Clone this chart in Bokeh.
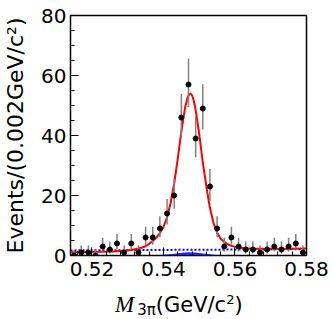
import math
from bokeh.plotting import figure
from bokeh.models import Range1d, FixedTicker, ColumnDataSource, Div
from bokeh.layouts import column
from bokeh.embed import file_html
from bokeh.resources import INLINE

# ---- data ----
bin_centers = [0.515, 0.517, 0.519, 0.521, 0.523, 0.525, 0.527, 0.529, 0.531, 0.533,
               0.535, 0.537, 0.539, 0.541, 0.543, 0.545, 0.547, 0.549, 0.551, 0.553,
               0.555, 0.557, 0.559, 0.561, 0.563, 0.565, 0.567, 0.569, 0.571, 0.573,
               0.575, 0.577, 0.579]
counts = [0, 1, 1, 0, 3, 2, 4, 1, 4, 1,
          6, 6, 9, 14, 20, 46, 57, 39, 49, 23,
          9, 3, 6, 3, 2, 2, 1, 2, 3, 2,
          3, 4, 1]

# total fit (red)
fit_x = [0.514, 0.518, 0.522, 0.526, 0.529, 0.531, 0.533, 0.534, 0.535, 0.536,
         0.537, 0.538, 0.539, 0.540, 0.541, 0.542, 0.543, 0.544, 0.545, 0.546,
         0.5465, 0.547, 0.5475, 0.548, 0.5485, 0.549, 0.550, 0.551, 0.552, 0.553,
         0.554, 0.555, 0.556, 0.557, 0.558, 0.559, 0.561, 0.563, 0.566, 0.570,
         0.575, 0.580]
fit_y = [1.1, 1.17, 1.25, 1.36, 1.55, 1.85, 2.35, 2.65, 3.1, 3.9,
         4.8, 5.9, 7.5, 9.5, 12.7, 17.5, 24.0, 32.3, 41.2, 49.0,
         51.6, 53.4, 54.0, 53.4, 51.5, 48.5, 40.5, 31.0, 23.0, 15.8,
         10.8, 7.6, 5.6, 4.5, 3.7, 3.2, 2.65, 2.4, 2.25, 2.22,
         2.26, 2.3]

# background (blue dotted)
bkg_x = [0.514, 0.580]
bkg_y = [1.7, 2.1]

# peaking background (blue fill)
pk_x = [0.537, 0.539, 0.541, 0.543, 0.545, 0.547, 0.549, 0.551, 0.553, 0.555, 0.557]
pk_y = [0.0, 0.15, 0.35, 0.6, 0.9, 1.1, 1.0, 0.7, 0.4, 0.2, 0.0]

x_ticks = [0.52, 0.54, 0.56, 0.58]
y_ticks = [0, 20, 40, 60, 80]

# Poisson-style asymmetric error bars
err_lo = [max(n - math.sqrt(n - 0.25), 0.0) if n > 0 else 0.0 for n in counts]
err_hi = [n + math.sqrt(n + 0.75) + 1.0 for n in counts]

p = figure(width=332, height=288, x_range=Range1d(0.514, 0.580), y_range=Range1d(0, 80),
           output_backend="svg", toolbar_location=None,
           min_border_left=67, min_border_right=26, min_border_top=15, min_border_bottom=33)
p.background_fill_color = "white"
p.border_fill_color = "white"
p.outline_line_color = "black"
p.outline_line_width = 1.5
p.grid.visible = False

p.xaxis.ticker = FixedTicker(ticks=x_ticks,
                             minor_ticks=[round(0.516 + 0.004 * i, 3) for i in range(17)])
p.yaxis.ticker = FixedTicker(ticks=y_ticks, minor_ticks=list(range(0, 81, 5)))
for ax in (p.xaxis[0], p.yaxis[0]):
    ax.axis_line_color = None
    ax.major_tick_in = 8
    ax.major_tick_out = 0
    ax.minor_tick_in = 4
    ax.minor_tick_out = 0
    ax.major_tick_line_color = "black"
    ax.minor_tick_line_color = "black"
    ax.major_label_text_font = "DejaVu Sans"
    ax.major_label_text_font_size = "20px"
    ax.major_label_text_color = "black"
p.xaxis.major_label_standoff = 6
p.yaxis.major_label_standoff = 4

p.yaxis.axis_label = "Events/(0.002GeV/c²)"
p.yaxis.axis_label_text_font = "DejaVu Sans"
p.yaxis.axis_label_text_font_size = "22px"
p.yaxis.axis_label_text_font_style = "normal"
p.yaxis.axis_label_text_color = "black"
p.yaxis.axis_label_standoff = 10

# peaking background
p.varea(x=pk_x, y1=[0] * len(pk_x), y2=pk_y, fill_color="blue", fill_alpha=0.85)
# background
p.line(bkg_x, bkg_y, line_color="blue", line_width=2, line_dash="2 2")
# total fit
p.line(fit_x, fit_y, line_color="red", line_width=2)
# data
src = ColumnDataSource(dict(x=bin_centers, y=counts, lo=err_lo, hi=err_hi))
p.segment(x0="x", y0="lo", x1="x", y1="hi", source=src, line_color="#808080", line_width=1.5)
p.scatter(x="x", y="y", source=src, size=5, fill_color="black", line_color="black")

# x-axis title as rich text below the figure
xtitle = Div(
    text=('<span style="font-family:\'Liberation Serif\';font-style:italic;font-size:23px;">M</span>'
          '<span style="font-family:\'DejaVu Sans\';font-size:15px;vertical-align:-3px;'
          'margin-left:3px;">3π</span>'
          '<span style="font-family:\'DejaVu Sans\';font-size:21px;">(GeV/c'
          '<span style="font-size:13px;vertical-align:8px;">2</span>)</span>'),
    width=332, height=31,
    styles={"padding-left": "115px", "line-height": "24px", "color": "black",
            "white-space": "nowrap", "margin": "0", "overflow": "visible"},
)

layout = column(p, xtitle, spacing=0)
open("out.html", "w").write(file_html(layout, INLINE))
